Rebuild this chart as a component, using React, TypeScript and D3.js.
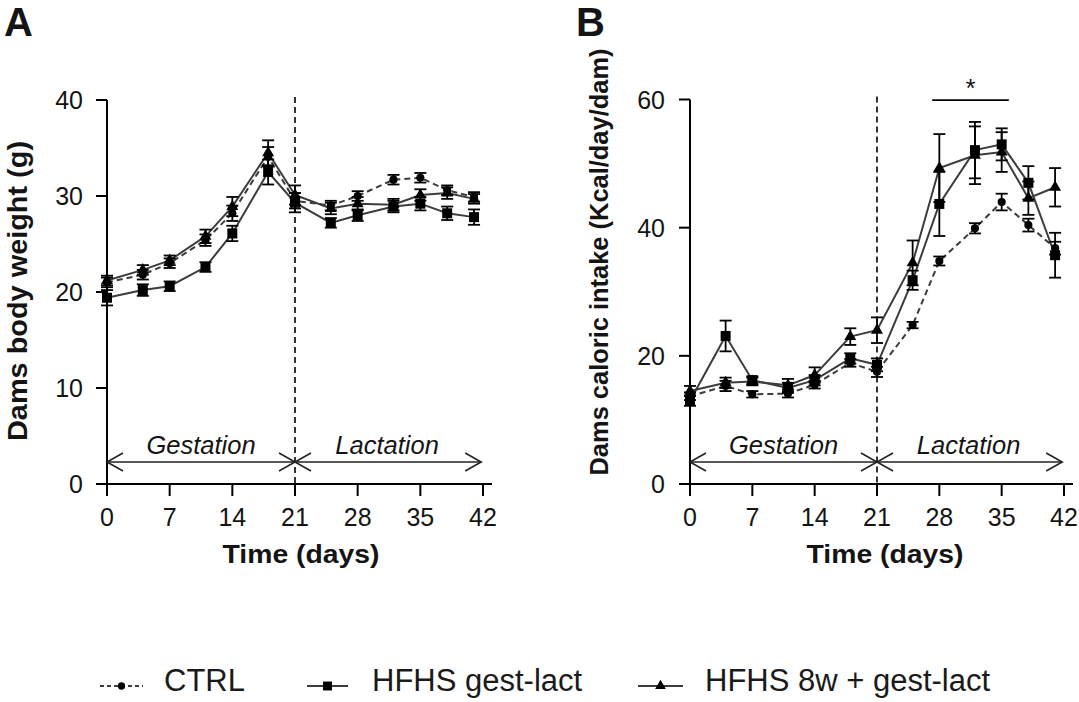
import React from 'react';
import * as d3 from 'd3';

// ---------- data ----------
const days = [0, 4, 7, 11, 14, 18, 21, 25, 28, 32, 35, 38, 41];
const xTicks = [0, 7, 14, 21, 28, 35, 42];
const weightTicks = [0, 10, 20, 30, 40];
const kcalTicks = [0, 20, 40, 60];
const seriesNames = ['CTRL', 'HFHS gest-lact', 'HFHS 8w + gest-lact'];
const phaseNames = ['Gestation', 'Lactation'];
const phaseBounds = [0, 21, 41.8];

// Panel A: dams body weight (g)
const ctrlWeight = [21.0, 21.8, 23.0, 25.4, 28.2, 34.1, 29.5, 29.0, 30.0, 31.7, 31.9, 30.6, 29.9];
const ctrlWeightErr = [0.5, 0.5, 0.5, 0.6, 0.8, 1.0, 0.8, 0.5, 0.5, 0.5, 0.5, 0.5, 0.5];
const hfhsWeight = [19.4, 20.2, 20.6, 22.6, 26.1, 32.5, 29.3, 27.2, 28.0, 28.9, 29.2, 28.2, 27.8];
const hfhsWeightErr = [0.8, 0.6, 0.5, 0.5, 0.8, 1.3, 1.0, 0.5, 0.6, 0.6, 0.7, 0.7, 0.8];
const hfhs8Weight = [21.2, 22.3, 23.3, 25.8, 28.9, 34.5, 30.1, 28.7, 29.2, 29.1, 30.1, 30.3, 29.7];
const hfhs8WeightErr = [0.5, 0.5, 0.5, 0.7, 1.0, 1.3, 1.0, 0.6, 0.7, 0.6, 0.6, 0.6, 0.5];

// Panel B: dams caloric intake (Kcal/day/dam)
const ctrlKcal = [13.7, 15.3, 14.0, 14.1, 15.5, 18.9, 17.5, 24.8, 34.8, 39.9, 44.0, 40.4, 36.8];
const ctrlKcalErr = [0.6, 0.8, 0.5, 0.6, 0.6, 0.6, 0.8, 0.5, 0.7, 0.8, 1.3, 1.0, 1.0];
const hfhsKcal = [13.0, 23.1, 16.2, 15.0, 16.2, 19.6, 18.6, 31.8, 43.7, 52.1, 53.0, 47.0, 35.7];
const hfhsKcalErr = [0.8, 2.4, 0.6, 0.8, 0.8, 0.8, 1.0, 1.5, 5.0, 4.4, 2.5, 2.6, 3.5];
const hfhs8Kcal = [14.5, 15.8, 16.0, 15.4, 17.0, 23.0, 24.0, 34.5, 49.3, 51.3, 51.8, 44.6, 46.3];
const hfhs8KcalErr = [0.8, 0.8, 0.6, 1.0, 1.2, 1.3, 2.0, 3.5, 5.3, 4.5, 3.1, 2.6, 3.0];

// significance bracket (panel B)
const sigStartDay = 27.2;
const sigEndDay = 35.8;
const sigValue = 59.9;
const sigLabel = '*';

// ---------- styles ----------
const FONT = 'Liberation Sans, Arial, Helvetica, sans-serif';
const LINE_COLOR = '#3c3c3c';
const TEXT_COLOR = '#141414';

type Shape = 'circle' | 'square' | 'triangle';
interface Series {
  values: number[];
  errors: number[];
  dashed: boolean;
  shape: Shape;
}

const symbolPath = (shape: Shape, scale = 1) => {
  const type = shape === 'circle' ? d3.symbolCircle : shape === 'square' ? d3.symbolSquare : d3.symbolTriangle;
  const size = shape === 'circle' ? 52 : shape === 'square' ? 100 : 62;
  return d3.symbol().type(type).size(size * scale)() as string;
};

interface PanelProps {
  letter: string;
  letterX: number;
  xLeft: number;
  xRight: number;
  yBottom: number;
  yTop: number;
  yMax: number;
  yTicks: number[];
  series: Series[];
  yTitle: string;
  yTitleX: number;
  yTitleY: number;
  yTitleLen: number;
  yTitleSize: number;
  xTitleX: number;
  tickLabelGap: number;
  sig?: boolean;
}

function Panel(p: PanelProps) {
  const x = d3.scaleLinear().domain([0, 42]).range([p.xLeft, p.xRight]);
  const y = d3.scaleLinear().domain([0, p.yMax]).range([p.yBottom, p.yTop]);
  const line = d3
    .line<number>()
    .x((_, i) => x(days[i]))
    .y((d) => y(d));
  const arrowY = p.yBottom - 22;
  const headLen = 16;
  const headH = 9;
  const head = (tipX: number, dir: number) =>
    `M${tipX + dir * headLen},${arrowY - headH}L${tipX},${arrowY}L${tipX + dir * headLen},${arrowY + headH}`;

  return (
    <g fontFamily={FONT} fill={TEXT_COLOR}>
      <text x={p.letterX} y={36} fontSize={40} fontWeight="bold">
        {p.letter}
      </text>

      {/* axes */}
      <line x1={p.xLeft - 10} x2={p.xRight + 9} y1={p.yBottom} y2={p.yBottom} stroke="#000" strokeWidth={2} />
      <line x1={p.xLeft} x2={p.xLeft} y1={y(p.yMax)} y2={p.yBottom} stroke="#000" strokeWidth={2} />
      {p.yTicks.map((t) => (
        <g key={'yt' + t}>
          <line x1={p.xLeft - 11} x2={p.xLeft} y1={y(t)} y2={y(t)} stroke="#000" strokeWidth={2} />
          <text x={p.xLeft - p.tickLabelGap} y={y(t) + 9} fontSize={25} textAnchor="end">
            {t}
          </text>
        </g>
      ))}
      {xTicks.map((t) => (
        <g key={'xt' + t}>
          <line x1={x(t)} x2={x(t)} y1={p.yBottom} y2={p.yBottom + 12} stroke="#000" strokeWidth={2} />
          <text x={x(t)} y={p.yBottom + 42} fontSize={25} textAnchor="middle">
            {t}
          </text>
        </g>
      ))}
      <text
        x={p.xTitleX}
        y={p.yBottom + 79}
        fontSize={26}
        fontWeight="bold"
        textAnchor="middle"
        textLength={157}
        lengthAdjust="spacingAndGlyphs"
      >
        Time (days)
      </text>
      <text
        transform={`translate(${p.yTitleX},${p.yTitleY}) rotate(-90)`}
        fontSize={p.yTitleSize}
        fontWeight="bold"
        textAnchor="middle"
        textLength={p.yTitleLen}
        lengthAdjust="spacingAndGlyphs"
      >
        {p.yTitle}
      </text>

      {/* phase divider */}
      <line
        x1={x(phaseBounds[1])}
        x2={x(phaseBounds[1])}
        y1={p.yTop - 3}
        y2={p.yBottom}
        stroke="#000"
        strokeWidth={1.6}
        strokeDasharray="6,4"
      />
      {/* phase arrows */}
      <line x1={x(phaseBounds[0])} x2={x(phaseBounds[2])} y1={arrowY} y2={arrowY} stroke="#222" strokeWidth={1.6} />
      <path d={head(x(phaseBounds[0]), 1)} fill="none" stroke="#222" strokeWidth={1.6} />
      <path d={head(x(phaseBounds[1]), -1)} fill="none" stroke="#222" strokeWidth={1.6} />
      <path d={head(x(phaseBounds[1]), 1)} fill="none" stroke="#222" strokeWidth={1.6} />
      <path d={head(x(phaseBounds[2]), -1)} fill="none" stroke="#222" strokeWidth={1.6} />
      {phaseNames.map((n, i) => (
        <text
          key={n}
          x={(x(phaseBounds[i]) + x(phaseBounds[i + 1])) / 2 + (i === 0 ? 0 : -1)}
          y={arrowY - 8}
          fontSize={25.5}
          fontStyle="italic"
          textAnchor="middle"
        >
          {n}
        </text>
      ))}

      {/* series lines */}
      {p.series.map((s, si) => (
        <path
          key={'l' + si}
          d={line(s.values) as string}
          fill="none"
          stroke={LINE_COLOR}
          strokeWidth={2}
          strokeDasharray={s.dashed ? '6,4' : undefined}
        />
      ))}
      {/* error bars */}
      {p.series.map((s, si) =>
        s.values.map((v, i) => {
          const cx = x(days[i]);
          const top = y(v + s.errors[i]);
          const bot = y(v - s.errors[i]);
          return (
            <g key={'e' + si + '-' + i} stroke="#000" strokeWidth={1.8}>
              <line x1={cx} x2={cx} y1={top} y2={bot} />
              <line x1={cx - 6} x2={cx + 6} y1={top} y2={top} />
              <line x1={cx - 6} x2={cx + 6} y1={bot} y2={bot} />
            </g>
          );
        })
      )}
      {/* markers */}
      {p.series.map((s, si) =>
        s.values.map((v, i) => (
          <path
            key={'m' + si + '-' + i}
            d={symbolPath(s.shape)}
            transform={`translate(${x(days[i])},${y(v)})`}
            fill="#000"
          />
        ))
      )}

      {p.sig && (
        <g>
          <line x1={x(sigStartDay)} x2={x(sigEndDay)} y1={y(sigValue)} y2={y(sigValue)} stroke="#000" strokeWidth={1.8} />
          <text x={(x(sigStartDay) + x(sigEndDay)) / 2} y={y(sigValue) - 3} fontSize={26} textAnchor="middle">
            {sigLabel}
          </text>
        </g>
      )}
    </g>
  );
}

function Legend() {
  const items = [
    { name: seriesNames[0], shape: 'circle' as Shape, dashed: true, x1: 100, x2: 143, tx: 164 },
    { name: seriesNames[1], shape: 'square' as Shape, dashed: false, x1: 307, x2: 348, tx: 372 },
    { name: seriesNames[2], shape: 'triangle' as Shape, dashed: false, x1: 638, x2: 683, tx: 705 },
  ];
  const ly = 686;
  return (
    <g fontFamily={FONT}>
      {items.map((it) => (
        <g key={it.name}>
          <line
            x1={it.x1}
            x2={it.x2}
            y1={ly}
            y2={ly}
            stroke={LINE_COLOR}
            strokeWidth={2}
            strokeDasharray={it.dashed ? '4,3' : undefined}
          />
          <path
            d={symbolPath(it.shape, it.shape === 'circle' ? 0.8 : 0.8)}
            transform={`translate(${(it.x1 + it.x2) / 2},${ly})`}
            fill="#000"
          />
          <text x={it.tx} y={ly + 5} fontSize={31} fill="#1a1a1a" dominantBaseline="auto">
            {it.name}
          </text>
        </g>
      ))}
    </g>
  );
}

export default function App() {
  const seriesA: Series[] = [
    { values: ctrlWeight, errors: ctrlWeightErr, dashed: true, shape: 'circle' },
    { values: hfhsWeight, errors: hfhsWeightErr, dashed: false, shape: 'square' },
    { values: hfhs8Weight, errors: hfhs8WeightErr, dashed: false, shape: 'triangle' },
  ];
  const seriesB: Series[] = [
    { values: ctrlKcal, errors: ctrlKcalErr, dashed: true, shape: 'circle' },
    { values: hfhsKcal, errors: hfhsKcalErr, dashed: false, shape: 'square' },
    { values: hfhs8Kcal, errors: hfhs8KcalErr, dashed: false, shape: 'triangle' },
  ];
  return (
    <svg
      width={1079}
      height={702}
      style={{ position: 'absolute', left: 0, top: 0, background: '#fff' }}
    >
      <rect width={1079} height={702} fill="#fff" />
      <Panel
        letter="A"
        letterX={4}
        xLeft={107}
        xRight={483}
        yBottom={484}
        yTop={100}
        yMax={40}
        yTicks={weightTicks}
        series={seriesA}
        yTitle="Dams body weight (g)"
        yTitleX={27}
        yTitleY={291}
        yTitleLen={300}
        yTitleSize={27}
        xTitleX={301}
        tickLabelGap={24}
      />
      <Panel
        letter="B"
        letterX={576}
        xLeft={690}
        xRight={1064}
        yBottom={484}
        yTop={99.5}
        yMax={60}
        yTicks={kcalTicks}
        series={seriesB}
        yTitle="Dams caloric intake (Kcal/day/dam)"
        yTitleX={608}
        yTitleY={262}
        yTitleLen={427}
        yTitleSize={26}
        xTitleX={885}
        tickLabelGap={25}
        sig
      />
      <Legend />
    </svg>
  );
}
